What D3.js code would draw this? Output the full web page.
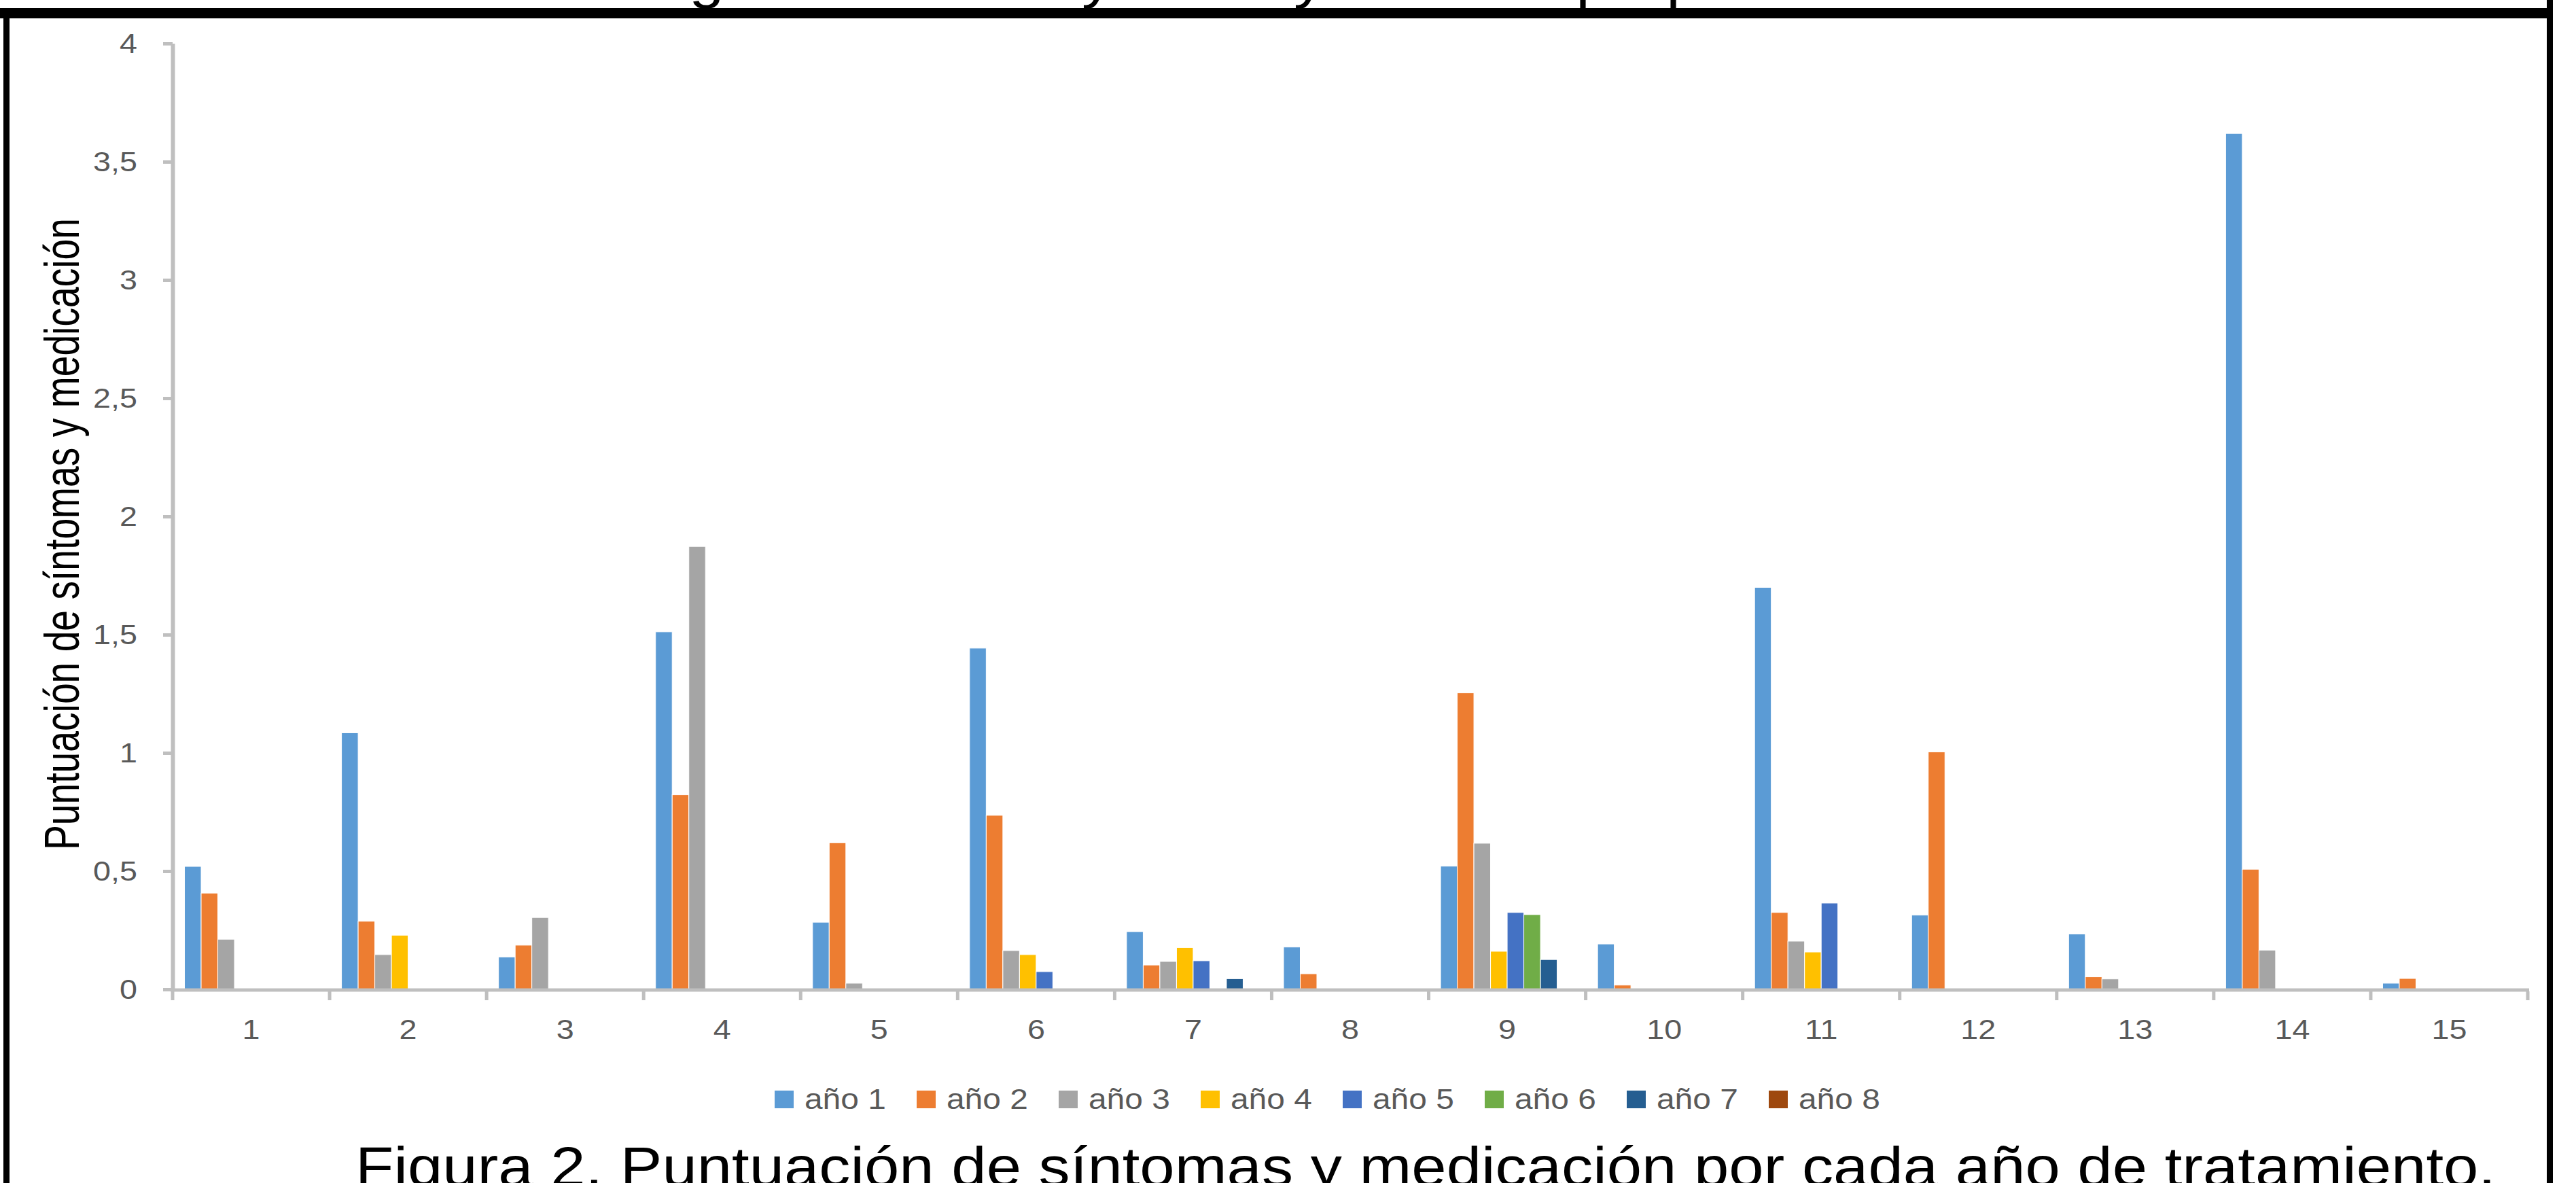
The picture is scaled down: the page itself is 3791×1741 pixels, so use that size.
<!DOCTYPE html>
<html>
<head>
<meta charset="utf-8">
<script src="https://cdn.jsdelivr.net/npm/d3@7"></script>
<style>
  body { margin: 0; background: #fff; }
  svg { display: block; font-family: "Liberation Sans", Arial, sans-serif; }
</style>
</head>
<body>
<div id="chart"></div>
<script>
////////////////////////////  Data  ////////////////////////////
const categories = ["1", "2", "3", "4", "5", "6", "7", "8", "9", "10", "11", "12", "13", "14", "15"];
const seriesNames = ["año 1", "año 2", "año 3", "año 4", "año 5", "año 6", "año 7", "año 8"];
const ano1 = [0.52, 1.085, 0.137, 1.512, 0.284, 1.443, 0.244, 0.179, 0.521, 0.192, 1.7, 0.314, 0.234, 3.62, 0.026];
const ano2 = [0.407, 0.288, 0.187, 0.823, 0.62, 0.736, 0.103, 0.066, 1.254, 0.018, 0.325, 1.004, 0.053, 0.508, 0.046];
const ano3 = [0.212, 0.147, 0.304, 1.873, 0.026, 0.164, 0.118, 0, 0.618, 0, 0.204, 0, 0.044, 0.166, 0];
const ano4 = [0, 0.229, 0, 0, 0, 0.147, 0.177, 0, 0.161, 0, 0.158, 0, 0, 0, 0];
const ano5 = [0, 0, 0, 0, 0, 0.075, 0.121, 0, 0.325, 0, 0.365, 0, 0, 0, 0];
const ano6 = [0, 0, 0, 0, 0, 0, 0, 0, 0.316, 0, 0, 0, 0, 0, 0];
const ano7 = [0, 0, 0, 0, 0, 0, 0.045, 0, 0.126, 0, 0, 0, 0, 0, 0];
const ano8 = [0, 0, 0, 0, 0, 0, 0, 0, 0, 0, 0, 0, 0, 0, 0];
const yTicks = [0, 0.5, 1, 1.5, 2, 2.5, 3, 3.5, 4];
const yLabel = "Puntuación de síntomas y medicación";
const caption = "Figura 2. Puntuación de síntomas y medicación por cada año de tratamiento.";

const seriesValues = [ano1, ano2, ano3, ano4, ano5, ano6, ano7, ano8];
const colors = ["#5B9BD5", "#ED7D31", "#A5A5A5", "#FFC000", "#4472C4", "#70AD47", "#255E91", "#9E480E"];

////////////////////////////  Init  ////////////////////////////
const width = 3791, height = 1741;
const SX = 1.14; // text in the picture is drawn a bit wide
const axisColor = "#BFBFBF";
const textColor = "#595959";

const svg = d3.select("#chart").append("svg")
  .attr("width", width).attr("height", height);
svg.append("rect").attr("width", width).attr("height", height).attr("fill", "#fff");

// scales
const x0 = d3.scaleBand().domain(categories).range([254, 3720]).paddingInner(0).paddingOuter(0);
const x1 = d3.scaleBand().domain(seriesNames).range([0, x0.bandwidth()]).paddingInner(0).paddingOuter(0.715);
const y = d3.scaleLinear().domain([0, 4]).range([1456, 64]);
const color = d3.scaleOrdinal().domain(seriesNames).range(colors);

const locale = d3.formatLocale({ decimal: ",", thousands: ".", grouping: [3], currency: ["", "€"] });
const fmt = locale.format("~g");

const stretched = (parent, x, yy, txt) =>
  parent.append("text").attr("transform", `translate(${x},${yy}) scale(${SX},1)`).text(txt);

// y axis
const yAxis = svg.append("g")
  .attr("transform", "translate(254,0)")
  .call(d3.axisLeft(y).tickValues(yTicks).tickFormat(fmt).tickSize(14).tickSizeOuter(0).tickPadding(38));
yAxis.select(".domain").attr("stroke", axisColor).attr("stroke-width", 6);
yAxis.selectAll(".tick line").attr("stroke", axisColor).attr("stroke-width", 5);
yAxis.selectAll(".tick text")
  .attr("x", -52 / SX)
  .attr("transform", `scale(${SX},1)`)
  .attr("fill", textColor).style("font-size", "41px")
  .style("font-family", "'Liberation Sans', Arial, sans-serif");

// bars
const rows = categories.map((c, i) => ({ cat: c, vals: seriesNames.map((s, j) => ({ s, v: seriesValues[j][i] })) }));
const groups = svg.append("g").selectAll("g")
  .data(rows).join("g")
  .attr("transform", (d) => `translate(${x0(d.cat)},0)`);
groups.selectAll("rect")
  .data((d) => d.vals.filter((e) => e.v > 0))
  .join("rect")
  .attr("x", (d) => x1(d.s))
  .attr("y", (d) => y(d.v))
  .attr("width", x1.bandwidth())
  .attr("height", (d) => y(0) - y(d.v))
  .attr("fill", (d) => color(d.s))
  .attr("stroke", "#fff")
  .attr("stroke-width", 1);

// x axis: baseline, boundary ticks, labels
const xRange = x0.range();
svg.append("line")
  .attr("x1", xRange[0] - 3).attr("x2", xRange[1] + 2)
  .attr("y1", y(0) + 1).attr("y2", y(0) + 1)
  .attr("stroke", axisColor).attr("stroke-width", 5);
const bounds = categories.map((c) => x0(c)).concat([xRange[1]]);
svg.append("g").selectAll("line")
  .data(bounds).join("line")
  .attr("x1", (d) => d).attr("x2", (d) => d)
  .attr("y1", y(0) + 3).attr("y2", y(0) + 16)
  .attr("stroke", axisColor).attr("stroke-width", 5);

const xAxis = svg.append("g")
  .attr("transform", `translate(0,${y(0)})`)
  .call(d3.axisBottom(x0).tickSize(0).tickPadding(44));
xAxis.select(".domain").remove();
xAxis.selectAll(".tick text")
  .attr("transform", `scale(${SX},1)`)
  .attr("fill", textColor).style("font-size", "41px")
  .style("font-family", "'Liberation Sans', Arial, sans-serif");

// y label
svg.append("text")
  .attr("transform", `translate(116,786) scale(${SX},1) rotate(-90)`)
  .attr("text-anchor", "middle")
  .attr("textLength", 930)
  .attr("lengthAdjust", "spacingAndGlyphs")
  .style("font-size", "64px")
  .attr("fill", "#000")
  .text(yLabel);

// legend
const legend = svg.append("g").selectAll("g")
  .data(seriesNames).join("g")
  .attr("transform", (d, i) => `translate(${1140 + i * 209},1605)`);
legend.append("rect")
  .attr("width", 28).attr("height", 26)
  .attr("fill", (d) => color(d));
legend.each(function (d) {
  stretched(d3.select(this), 44, 27, d)
    .attr("fill", textColor).style("font-size", "42px");
});

// caption (cut by bottom edge)
stretched(svg, 523, 1745, caption)
  .attr("textLength", 3150 / SX)
  .attr("lengthAdjust", "spacingAndGlyphs")
  .attr("fill", "#000").style("font-size", "81px");

// descenders of a line of text above, cut off by the top edge
const topGlyphs = [["g", 1040], ["y", 1615], ["y", 1927], ["p", 2345], ["p", 2478]];
topGlyphs.forEach(([g, gx]) => {
  stretched(svg, gx, -4, g).attr("text-anchor", "middle").attr("fill", "#000").style("font-size", "81px");
});

// frame
svg.append("rect").attr("x", 0).attr("y", 12).attr("width", 3757).attr("height", 15).attr("fill", "#000");
svg.append("rect").attr("x", 5).attr("y", 12).attr("width", 9).attr("height", height - 12).attr("fill", "#000");
svg.append("rect").attr("x", 3748).attr("y", 0).attr("width", 9).attr("height", height).attr("fill", "#000");
</script>
</body>
</html>
